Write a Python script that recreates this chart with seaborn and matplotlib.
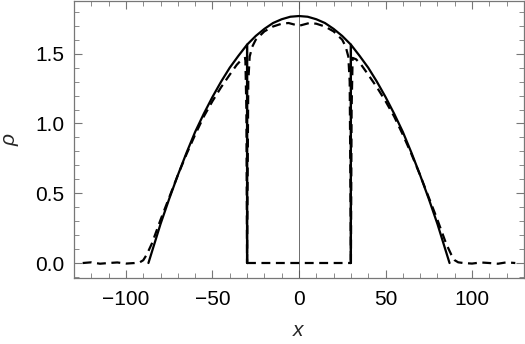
import numpy as np
import pandas as pd
import matplotlib
matplotlib.use("Agg")
import matplotlib.pyplot as plt
import seaborn as sns

# Solid (analytic) profile: outer component, left half (mirrored for the right)
x_outer = [-87, -85, -80, -75, -70, -65, -60, -55, -50, -45, -40, -35, -30]
rho_outer = [0.0, 0.08, 0.28, 0.46, 0.63, 0.79, 0.94, 1.07, 1.19, 1.30, 1.40, 1.485, 1.565]
# Solid inner component, left half
x_inner = [-30, -25, -20, -15, -10, -5, 0]
rho_inner = [1.565, 1.627, 1.678, 1.72, 1.747, 1.765, 1.77]

# Dashed (numerical) outer component, left half
x_num_outer = [-125, -120, -115, -110, -105, -100, -95, -92, -90, -88, -85, -80, -75, -70,
               -65, -60, -55, -50, -45, -40, -36, -33, -31, -30.4, -30]
rho_num_outer = [0.0, 0.005, -0.005, 0.0, 0.004, -0.004, 0.0, 0.005, 0.02, 0.06, 0.14, 0.31,
                 0.47, 0.63, 0.78, 0.92, 1.05, 1.16, 1.26, 1.35, 1.42, 1.46, 1.47, 1.1, 0.0]
# Dashed inner component, left half
x_num_inner = [-30, -29.7, -29.3, -28.5, -27, -25, -20, -15, -10, -6, -3, 0]
rho_num_inner = [0.0, 0.6, 1.3, 1.48, 1.55, 1.6, 1.66, 1.695, 1.715, 1.72, 1.71, 1.70]


def mirror(xs, ys):
    xs = np.asarray(xs, float)
    ys = np.asarray(ys, float)
    xr = -xs[::-1]
    yr = ys[::-1]
    if xs[-1] == 0:
        xr, yr = xr[1:], yr[1:]
    return np.concatenate([xs, xr]), np.concatenate([ys, yr])


def frame(xs, ys):
    return pd.DataFrame({"x": xs, "rho": ys})


sns.set_style("ticks")
plt.rcParams["font.family"] = ["Liberation Sans", "DejaVu Sans"]
plt.rcParams["mathtext.fontset"] = "custom"
plt.rcParams["mathtext.it"] = "Liberation Sans:italic"

fig = plt.figure(figsize=(5.25, 3.44), dpi=100)
ax = fig.add_axes([0.141, 0.192, 0.857, 0.806])

ax.axvline(0, color="#555555", lw=0.6, zorder=1)

kw = dict(sort=False, estimator=None, color="black", ax=ax, legend=False)
dash = (0, (4, 2.5))

# dashed numerical curves
xo, yo = mirror(x_num_outer, rho_num_outer)
n = len(x_num_outer)
left = frame(xo[:n], yo[:n])
right = pd.concat([frame([30.0], [0.0]), frame(xo[n:], yo[n:])])
sns.lineplot(data=left, x="x", y="rho", lw=1.6, linestyle=dash, **kw)
sns.lineplot(data=right, x="x", y="rho", lw=1.6, linestyle=dash, **kw)
# zero of outer component in the centre
sns.lineplot(data=frame([-30, 30], [0, 0]), x="x", y="rho", lw=1.6, linestyle=dash, **kw)

xi, yi = mirror(x_num_inner, rho_num_inner)
sns.lineplot(data=frame(xi, yi), x="x", y="rho", lw=1.6, linestyle=dash, **kw)

# solid analytic curves
xs_o = np.asarray(x_outer, float)
ys_o = np.asarray(rho_outer, float)
sns.lineplot(data=frame(np.append(xs_o, xs_o[-1]), np.append(ys_o, 0.0)),
             x="x", y="rho", lw=1.6, **kw)
sns.lineplot(data=frame(np.insert(-xs_o[::-1], 0, 30.0), np.insert(ys_o[::-1], 0, 0.0)),
             x="x", y="rho", lw=1.6, **kw)
xsi, ysi = mirror(x_inner, rho_inner)
sns.lineplot(data=frame(np.concatenate([[-30], xsi, [30]]), np.concatenate([[0], ysi, [0]])),
             x="x", y="rho", lw=1.6, **kw)

ax.set_xlim(-130, 130)
ax.set_ylim(-0.107, 1.88)
ax.set_xticks([-100, -50, 0, 50, 100])
ax.set_xticklabels(["\u2212100", "\u221250", "0", "50", "100"])
ax.set_yticks([0.0, 0.5, 1.0, 1.5])
ax.set_yticklabels(["0.0", "0.5", "1.0", "1.5"])
ax.set_xticks(np.arange(-120, 121, 10), minor=True)
ax.set_yticks(np.arange(-0.1, 1.81, 0.1), minor=True)
ax.tick_params(which="both", direction="in", top=True, right=True, color="#777777",
               labelsize=15, labelcolor="black")
ax.tick_params(which="major", length=6, width=0.8)
ax.tick_params(axis="x", which="major", pad=9)
ax.tick_params(axis="y", which="major", pad=7)
ax.tick_params(which="minor", length=3.5, width=0.6)
for s in ax.spines.values():
    s.set_color("#777777")
    s.set_linewidth(0.9)

ax.set_xlabel("$x$", fontsize=15, labelpad=8)
ax.set_ylabel("$\\rho$", fontsize=15, labelpad=10)

fig.savefig("out.png", dpi=100)
